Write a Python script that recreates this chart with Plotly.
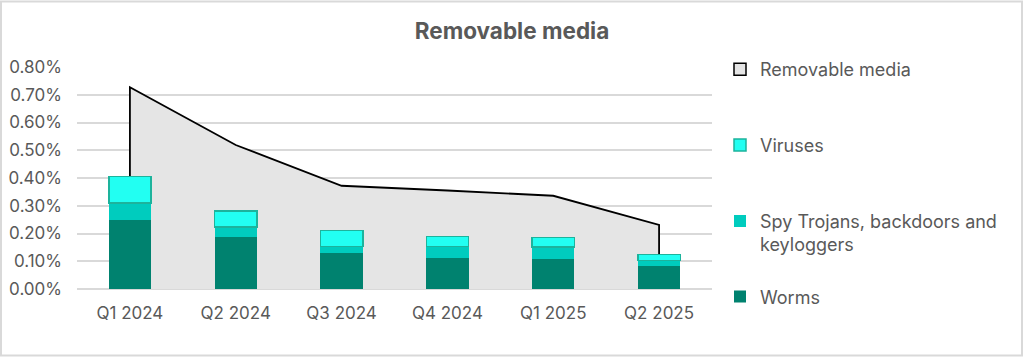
import plotly.graph_objects as go

quarters = ["Q1 2024", "Q2 2024", "Q3 2024", "Q4 2024", "Q1 2025", "Q2 2025"]
removable_media = [0.00727, 0.00519, 0.00372, 0.00355, 0.00336, 0.00231]
worms = [0.00250, 0.00187, 0.00129, 0.00112, 0.00108, 0.00084]
spy_trojans = [0.00060, 0.00036, 0.00024, 0.00042, 0.00043, 0.00019]
viruses = [0.00095, 0.00059, 0.00057, 0.00036, 0.00035, 0.00021]
y_ticks = [0, 0.001, 0.002, 0.003, 0.004, 0.005, 0.006, 0.007, 0.008]

FONT = "Inter"
GREY = "#595959"

fig = go.Figure()

# Area (drawn on base axes, below the bars)
fig.add_trace(go.Scatter(
    x=[quarters[0]] + quarters + [quarters[-1]],
    y=[0] + removable_media + [0],
    mode="lines", fill="tozeroy", fillcolor="#E5E5E5",
    line=dict(color="#000000", width=1.8),
    showlegend=False, hoverinfo="skip", xaxis="x", yaxis="y",
))

# Bars on overlay axes (drawn above the area)
fig.add_trace(go.Bar(x=quarters, y=worms, name="Worms",
                     marker=dict(color="#00826F", line=dict(width=0)),
                     xaxis="x2", yaxis="y2", legend="legend4"))
fig.add_trace(go.Bar(x=quarters, y=spy_trojans,
                     name="Spy Trojans, backdoors and<br>keyloggers",
                     marker=dict(color="#00CCBE", line=dict(width=0)),
                     xaxis="x2", yaxis="y2", legend="legend3"))
fig.add_trace(go.Bar(x=quarters, y=viruses, name="Viruses",
                     marker=dict(color="#22FFF2", line=dict(color="#1DB39C", width=1.5)),
                     xaxis="x2", yaxis="y2", legend="legend2"))
# legend entry for the area
fig.add_trace(go.Bar(x=[quarters[0]], y=[None], name="Removable media",
                     marker=dict(color="#E5E5E5", line=dict(color="#000000", width=1.5)),
                     xaxis="x2", yaxis="y2", legend="legend"))

tickfont = dict(family=FONT, size=17, color=GREY)
legfont = dict(family=FONT, size=18, color=GREY)
LX = 1.0126

fig.update_layout(
    width=1024, height=358,
    margin=dict(l=77, r=312, t=67, b=69, autoexpand=False),
    paper_bgcolor="white", plot_bgcolor="white",
    barmode="stack", bargap=0.6,
    title=dict(text="<b>Removable media</b>", x=0.5, xref="container", xanchor="center",
               y=1 - 31 / 358, yref="container", yanchor="middle",
               font=dict(family=FONT, size=22.5, color=GREY)),
    xaxis=dict(type="category", categoryarray=quarters, range=[-0.5, 5.5],
               showgrid=False, showline=False, zeroline=False, ticks="",
               tickfont=tickfont, ticklabelstandoff=12, automargin=False),
    yaxis=dict(range=[0, 0.008], tickvals=y_ticks, tickformat=".2%",
               showgrid=True, gridcolor="#D9D9D9", gridwidth=1.5,
               zeroline=True, zerolinecolor="#D9D9D9", zerolinewidth=1.5,
               showline=False, ticks="", tickfont=tickfont, ticklabelstandoff=14,
               automargin=False),
    xaxis2=dict(type="category", categoryarray=quarters, range=[-0.5, 5.5],
                overlaying="x", matches="x", showticklabels=False, automargin=False,
                showgrid=False, zeroline=False, showline=False),
    yaxis2=dict(range=[0, 0.008], overlaying="y", matches="y", showticklabels=False,
                automargin=False, showgrid=False, zeroline=False, showline=False),
    legend=dict(x=LX, y=0.988, xanchor="left", yanchor="middle", font=legfont,
                bgcolor="rgba(0,0,0,0)"),
    legend2=dict(x=LX, y=0.647, xanchor="left", yanchor="middle", font=legfont,
                 bgcolor="rgba(0,0,0,0)"),
    legend3=dict(x=LX, y=0.253, xanchor="left", yanchor="middle", font=legfont,
                 valign="top", bgcolor="rgba(0,0,0,0)"),
    legend4=dict(x=LX, y=-0.035, xanchor="left", yanchor="middle", font=legfont,
                 bgcolor="rgba(0,0,0,0)"),
    shapes=[dict(type="rect", xref="paper", yref="paper",
                 x0=(1 - 77) / 635, x1=(1022 - 77) / 635,
                 y0=(289.3 - 356) / 222.6, y1=(289.3 - 1) / 222.6,
                 line=dict(color="#D9D9D9", width=2), fillcolor="rgba(0,0,0,0)",
                 layer="below")],
)

fig.write_html("out.html", config={"displayModeBar": False},
               post_script="document.body.style.margin='0';")
